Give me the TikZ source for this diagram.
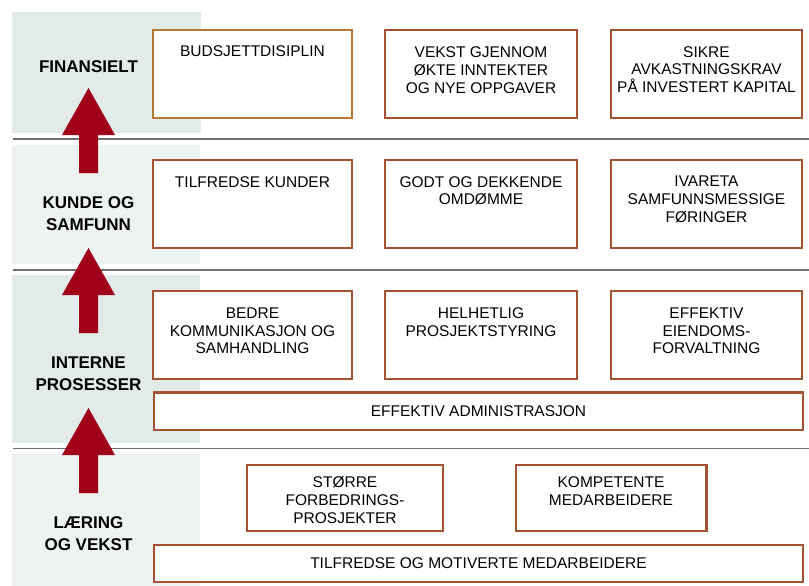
\documentclass[tikz,border=0pt]{standalone}
\usepackage{fontspec}
\setmainfont{Liberation Sans}
\definecolor{paneldark}{RGB}{227,235,234}
\definecolor{panellight}{RGB}{238,243,242}
\definecolor{sepgray}{RGB}{112,112,112}
\definecolor{boxbrown}{RGB}{163,83,47}
\definecolor{boxgold}{RGB}{182,121,50}
\definecolor{arrowred}{RGB}{160,0,24}
\tikzset{
  goalbox/.style={draw=boxbrown, line width=2.3pt, fill=white, inner sep=0pt},
  goldbox/.style={goalbox, draw=boxgold},
  boxtext/.style={anchor=north, inner sep=0pt, align=center,
    font=\fontsize{15.5}{17.8}\selectfont},
  midtext/.style={anchor=center, inner sep=0pt, align=center,
    font=\fontsize{15.5}{17.8}\selectfont},
  perslabel/.style={anchor=north, inner sep=0pt, align=center,
    font=\fontsize{17}{22}\selectfont\bfseries},
  sepline/.style={draw=sepgray, line width=1.8pt},
  pics/uparrow/.style={code={
    \fill[arrowred] (-9.5,85) -- (-9.5,47) -- (-26.5,47) -- (0,0)
      -- (26.5,47) -- (9.5,47) -- (9.5,85) -- cycle;
  }}
}
\begin{document}
\begin{tikzpicture}[x=1pt,y=-1pt]
\useasboundingbox (0,0) rectangle (809,586);
% panels
\fill[paneldark]  (12,12) rectangle (200.5,132.5);
\fill[panellight] (12,145) rectangle (200,264);
\fill[paneldark]  (12,275) rectangle (200,443);
\fill[panellight] (12,454) rectangle (199.5,586);
% separators
\coordinate (s1a) at (13,139);  \coordinate (s1b) at (809,139);
\coordinate (s2a) at (13,270);  \coordinate (s2b) at (809,270);
\coordinate (s3a) at (13,448.5);  \coordinate (s3b) at (809,448.5);
\draw[sepline] (s1a) -- (s1b);
\draw[sepline] (s2a) -- (s2b);
\draw[sepline] (s3a) -- (s3b);
% arrows
\pic at (88.5,88) {uparrow};
\pic at (88.5,248) {uparrow};
\pic at (88.5,408) {uparrow};
% perspective labels
\node[perslabel] (lfin) at (88.5,60) {FINANSIELT};
\node[perslabel] (lkun) at (88.5,196) {KUNDE OG\\SAMFUNN};
\node[perslabel] (lint) at (88.5,357) {INTERNE\\PROSESSER};
\node[perslabel] (llar) at (88.5,516) {LÆRING\\OG VEKST};
% row 1
\draw[goldbox] (153,30) rectangle (352,118);
\draw[goalbox] (385,30) rectangle (577,118);
\draw[goalbox] (611,30) rectangle (802,118);
\node[boxtext] (b11) at (252.5,45.5) {BUDSJETTDISIPLIN};
\node[boxtext] (b12) at (481,46.5) {VEKST GJENNOM\\ØKTE INNTEKTER\\OG NYE OPPGAVER};
\node[boxtext] (b13) at (706.5,46) {SIKRE\\AVKASTNINGSKRAV\\PÅ INVESTERT KAPITAL};
% row 2
\draw[goalbox] (153,160) rectangle (352,248);
\draw[goalbox] (385,160) rectangle (577,248);
\draw[goalbox] (611,160) rectangle (802,248);
\node[boxtext] (b21) at (252.5,176) {TILFREDSE KUNDER};
\node[boxtext] (b22) at (481,176) {GODT OG DEKKENDE\\OMDØMME};
\node[boxtext] (b23) at (706.5,176) {IVARETA\\SAMFUNNSMESSIGE\\FØRINGER};
% row 3
\draw[goalbox] (153,291) rectangle (352,379);
\draw[goalbox] (385,291) rectangle (577,379);
\draw[goalbox] (611,291) rectangle (802,379);
\node[boxtext] (b31) at (252.5,307.5) {BEDRE\\KOMMUNIKASJON OG\\SAMHANDLING};
\node[boxtext] (b32) at (481,307.5) {HELHETLIG\\PROSJEKTSTYRING};
\node[boxtext] (b33) at (706.5,307.5) {EFFEKTIV\\EIENDOMS-\\FORVALTNING};
\draw[goalbox] (154,392.5) rectangle (803,430);
\node[midtext] (badm) at (478.5,411) {EFFEKTIV ADMINISTRASJON};
% row 4
\draw[goalbox] (247,465) rectangle (443,531);
\draw[goalbox] (516,465) rectangle (706.5,531);
\node[boxtext] (b41) at (345,476.7) {STØRRE\\FORBEDRINGS-\\PROSJEKTER};
\node[boxtext] (b42) at (611,476.7) {KOMPETENTE\\MEDARBEIDERE};
\draw[goalbox] (154,545) rectangle (803,582);
\node[midtext] (bmot) at (478.5,563.5) {TILFREDSE OG MOTIVERTE MEDARBEIDERE};
\end{tikzpicture}
\end{document}
